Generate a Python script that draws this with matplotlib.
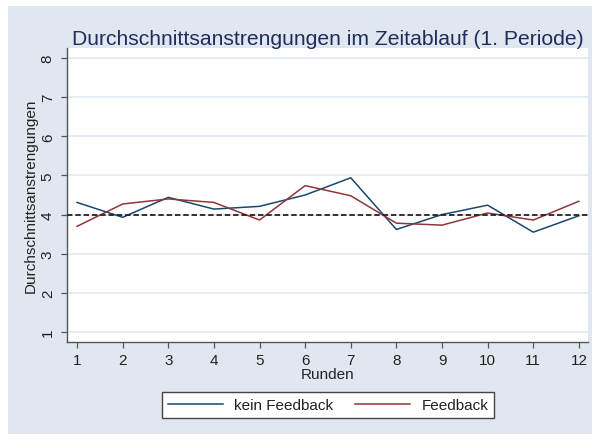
import matplotlib
matplotlib.use("Agg")
import matplotlib.pyplot as plt
from matplotlib.patches import Rectangle

plt.rcParams['font.family'] = ['Liberation Sans', 'DejaVu Sans']

# Durchschnittliche Anstrengung je Runde
runden = [1, 2, 3, 4, 5, 6, 7, 8, 9, 10, 11, 12]
kein_feedback = [4.31, 3.93, 4.44, 4.14, 4.21, 4.50, 4.94, 3.62, 4.00, 4.24, 3.55, 3.97]
feedback = [3.70, 4.27, 4.40, 4.31, 3.86, 4.74, 4.48, 3.78, 3.73, 4.04, 3.86, 4.34]
referenz = 4
y_ticks = [1, 2, 3, 4, 5, 6, 7, 8]

BG = '#e1e7f0'
NAVY = '#1a476f'
MAROON = '#90353b'
W, H = 592, 435

fig = plt.figure(figsize=(W / 100, H / 100), dpi=100, facecolor='white')
# grauer Hintergrund, oben und links ein schmaler weisser Rand
bg = Rectangle((8 / W, 0), 1, 1 - 7 / H, transform=fig.transFigure,
               facecolor=BG, edgecolor='none', zorder=-10)
fig.patches.append(bg)

ax = fig.add_axes([67 / W, 1 - 343 / H, (588 - 67) / W, (343 - 49) / H])
ax.set_facecolor('white')

ax.plot(runden, kein_feedback, color=NAVY, lw=1.1, label='kein Feedback', zorder=3)
ax.plot(runden, feedback, color=MAROON, lw=1.1, label='Feedback', zorder=3)
ax.axhline(referenz, color='#222222', lw=1.3, ls=(0, (3, 1.6)), zorder=4)

ax.set_xlim(0.78, 12.2)
ax.set_ylim(0.744, 8.256)
ax.set_xticks(runden)
ax.set_yticks(y_ticks)
ax.grid(axis='y', color='#e3e9f2', lw=1.2)
ax.set_axisbelow(True)

for s in ['top', 'right']:
    ax.spines[s].set_visible(False)
for s in ['left', 'bottom']:
    ax.spines[s].set_color('#555555')
    ax.spines[s].set_linewidth(1.0)

ax.tick_params(axis='both', direction='out', length=4.3, width=0.9, color='#555555',
               labelsize=11, labelcolor='#222222', pad=4.5)
ax.tick_params(axis='x', pad=3.5)
for lab in ax.get_yticklabels():
    lab.set_rotation(90)
    lab.set_va('center')

ax.set_xlabel('Runden', fontsize=11, color='#222222', labelpad=0)
ax.set_ylabel('Durchschnittsanstrengungen', fontsize=11, color='#222222', labelpad=2)
ax.set_title('Durchschnittsanstrengungen im Zeitablauf (1. Periode)',
             fontsize=15.2, color='#1e2d5c', pad=3)

leg = fig.legend(loc='center', bbox_to_anchor=(328 / W, 1 - 406 / H), ncol=2,
                 fontsize=11, frameon=True, fancybox=False, framealpha=1,
                 handlelength=3.6, handletextpad=0.75, columnspacing=1.4,
                 borderpad=0.4)
leg.get_frame().set_edgecolor('#444444')
leg.get_frame().set_linewidth(1.0)
for t in leg.get_texts():
    t.set_color('#222222')

fig.savefig('out.png', dpi=100, facecolor=fig.get_facecolor())
